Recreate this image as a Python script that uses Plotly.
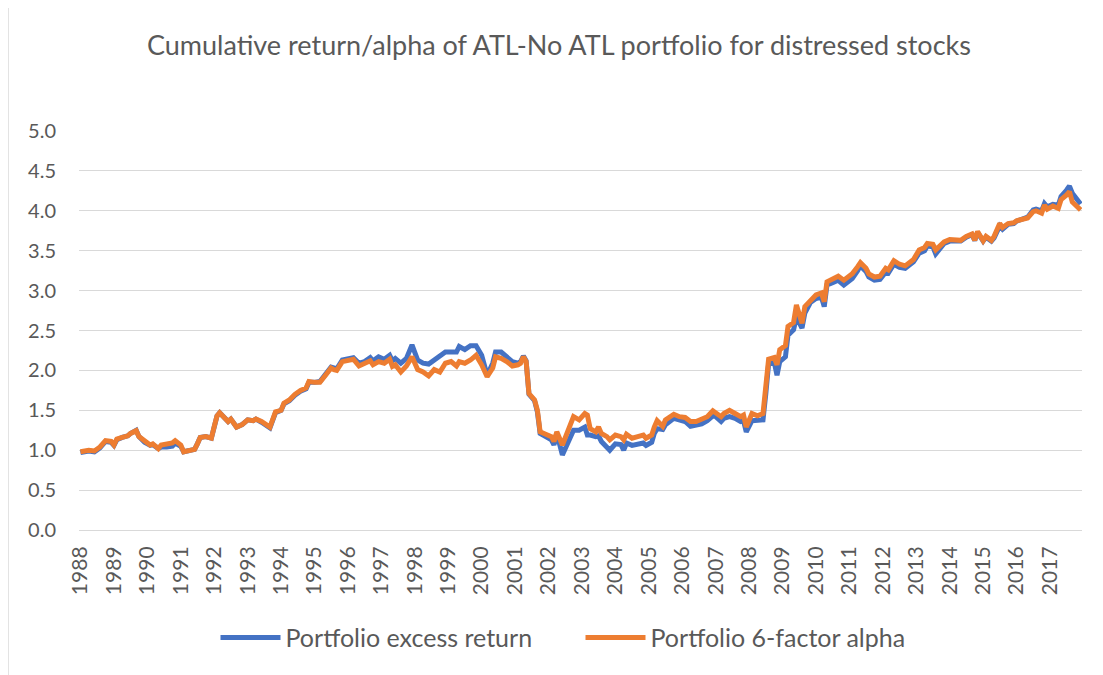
import plotly.graph_objects as go

dates = [
    "1988-01", "1988-03", "1988-04", "1988-06", "1988-08", "1988-10", "1988-12",
    "1989-01", "1989-02", "1989-04", "1989-06", "1989-07", "1989-09", "1989-10", "1989-12",
    "1990-02", "1990-03", "1990-05", "1990-06", "1990-08", "1990-10", "1990-11",
    "1991-01", "1991-02", "1991-04", "1991-06", "1991-07", "1991-08", "1991-10", "1991-12",
    "1992-01", "1992-02", "1992-03", "1992-05", "1992-06", "1992-07", "1992-09", "1992-11",
    "1993-01", "1993-03", "1993-04", "1993-06", "1993-08", "1993-09", "1993-11",
    "1994-01", "1994-02", "1994-04", "1994-06", "1994-08", "1994-10", "1994-11",
    "1995-01", "1995-03", "1995-05", "1995-07", "1995-08", "1995-09", "1995-11",
    "1996-01", "1996-03", "1996-05", "1996-07", "1996-09", "1996-10", "1996-12",
    "1997-02", "1997-04", "1997-05", "1997-06", "1997-08", "1997-10", "1997-12",
    "1998-02", "1998-04", "1998-06", "1998-08", "1998-10", "1998-12",
    "1999-02", "1999-04", "1999-05", "1999-07", "1999-09", "1999-11",
    "2000-01", "2000-03", "2000-05", "2000-06", "2000-08", "2000-10", "2000-12",
    "2001-02", "2001-03", "2001-04", "2001-05", "2001-06", "2001-08", "2001-09", "2001-10", "2001-12",
    "2002-02", "2002-03", "2002-04", "2002-06", "2002-08", "2002-10", "2002-12",
    "2003-02", "2003-03", "2003-04", "2003-06", "2003-07", "2003-08", "2003-10", "2003-11",
    "2004-01", "2004-03", "2004-04", "2004-05", "2004-07", "2004-09", "2004-11", "2004-12",
    "2005-02", "2005-03", "2005-04", "2005-06", "2005-07", "2005-10", "2005-12",
    "2006-02", "2006-04", "2006-06", "2006-08", "2006-10", "2006-12",
    "2007-01", "2007-03", "2007-04", "2007-06", "2007-08", "2007-10", "2007-11", "2007-12",
    "2008-02", "2008-04", "2008-06", "2008-07", "2008-08", "2008-10", "2008-11", "2008-12",
    "2009-02", "2009-03", "2009-05", "2009-06", "2009-08", "2009-09", "2009-11",
    "2010-01", "2010-03", "2010-04", "2010-05", "2010-07", "2010-09", "2010-11",
    "2011-01", "2011-02", "2011-04", "2011-05", "2011-07", "2011-08", "2011-10", "2011-12",
    "2012-02", "2012-03", "2012-05", "2012-07", "2012-09", "2012-11", "2012-12",
    "2013-02", "2013-04", "2013-05", "2013-07", "2013-08", "2013-10", "2013-11",
    "2014-01", "2014-03", "2014-05", "2014-07", "2014-09", "2014-10", "2014-11",
    "2015-01", "2015-02", "2015-04", "2015-05", "2015-07", "2015-08", "2015-10", "2015-12",
    "2016-01", "2016-03", "2016-05", "2016-07", "2016-08", "2016-10", "2016-11", "2016-12",
    "2017-02", "2017-04", "2017-05", "2017-07", "2017-08", "2017-09", "2017-11", "2017-12",
]

excess_return = [
    0.97, 0.99, 0.99, 0.98, 1.03, 1.11, 1.10,
    1.06, 1.13, 1.16, 1.18, 1.21, 1.25, 1.17, 1.10,
    1.06, 1.07, 1.02, 1.04, 1.04, 1.05, 1.09,
    1.05, 0.98, 1.00, 1.01, 1.08, 1.16, 1.17, 1.15,
    1.29, 1.43, 1.47, 1.41, 1.36, 1.39, 1.29, 1.32,
    1.38, 1.37, 1.39, 1.35, 1.31, 1.28, 1.47,
    1.50, 1.58, 1.62, 1.69, 1.74, 1.77, 1.85,
    1.85, 1.86, 1.95, 2.04, 2.03, 2.02, 2.13,
    2.15, 2.16, 2.09, 2.11, 2.16, 2.12, 2.17,
    2.14, 2.19, 2.12, 2.15, 2.09, 2.15, 2.32,
    2.13, 2.09, 2.08, 2.13, 2.17, 2.23,
    2.23, 2.23, 2.30, 2.26, 2.31, 2.31,
    2.19, 1.94, 2.09, 2.23, 2.23, 2.17, 2.11,
    2.09, 2.11, 2.18, 2.12, 1.70, 1.62, 1.48, 1.21, 1.17,
    1.13, 1.065, 1.21, 0.94, 1.09, 1.25, 1.25,
    1.29, 1.19, 1.19, 1.17, 1.18, 1.11, 1.05, 1.00,
    1.08, 1.07, 1.00, 1.09, 1.06, 1.07, 1.09, 1.06,
    1.10, 1.21, 1.27, 1.26, 1.32, 1.40, 1.38,
    1.36, 1.30, 1.31, 1.33, 1.37, 1.43,
    1.42, 1.36, 1.40, 1.42, 1.40, 1.36, 1.37, 1.23,
    1.37, 1.37, 1.38, 1.70, 2.08, 2.11, 1.94, 2.11,
    2.17, 2.44, 2.51, 2.67, 2.53, 2.72, 2.85,
    2.90, 2.92, 2.80, 3.07, 3.10, 3.13, 3.07,
    3.12, 3.15, 3.25, 3.31, 3.24, 3.17, 3.13, 3.14,
    3.23, 3.22, 3.33, 3.29, 3.28, 3.33, 3.36,
    3.47, 3.50, 3.56, 3.55, 3.46, 3.54, 3.59,
    3.62, 3.62, 3.62, 3.67, 3.70, 3.63, 3.73,
    3.62, 3.67, 3.62, 3.66, 3.81, 3.77, 3.83, 3.84,
    3.87, 3.89, 3.92, 4.01, 4.02, 4.00, 4.09, 4.05,
    4.08, 4.07, 4.18, 4.26, 4.31, 4.22, 4.12, 4.085,
]

six_factor_alpha = [
    0.98, 1.00, 1.00, 0.99, 1.04, 1.12, 1.11,
    1.065, 1.14, 1.16, 1.18, 1.21, 1.245, 1.17, 1.11,
    1.065, 1.08, 1.02, 1.065, 1.07, 1.09, 1.12,
    1.065, 0.98, 1.00, 1.01, 1.08, 1.16, 1.17, 1.15,
    1.295, 1.43, 1.47, 1.41, 1.36, 1.39, 1.29, 1.32,
    1.38, 1.37, 1.39, 1.36, 1.32, 1.29, 1.48,
    1.50, 1.59, 1.63, 1.70, 1.75, 1.78, 1.86,
    1.85, 1.85, 1.94, 2.03, 2.01, 2.00, 2.11,
    2.13, 2.14, 2.055, 2.08, 2.12, 2.07, 2.11,
    2.09, 2.14, 2.05, 2.07, 1.98, 2.055, 2.17,
    2.01, 1.98, 1.93, 2.01, 1.98, 2.09,
    2.11, 2.055, 2.11, 2.09, 2.13, 2.19,
    2.07, 1.92, 2.03, 2.17, 2.15, 2.11, 2.055,
    2.07, 2.09, 2.17, 2.11, 1.71, 1.63, 1.50, 1.23, 1.20,
    1.17, 1.11, 1.23, 1.065, 1.23, 1.42, 1.38,
    1.46, 1.44, 1.27, 1.23, 1.29, 1.21, 1.17, 1.13,
    1.19, 1.17, 1.13, 1.20, 1.15, 1.17, 1.19, 1.15,
    1.19, 1.29, 1.37, 1.30, 1.38, 1.45, 1.42,
    1.41, 1.36, 1.36, 1.39, 1.42, 1.495,
    1.47, 1.42, 1.46, 1.50, 1.46, 1.42, 1.44, 1.29,
    1.46, 1.43, 1.46, 1.78, 2.14, 2.16, 2.07, 2.26,
    2.31, 2.55, 2.60, 2.82, 2.59, 2.80, 2.88,
    2.945, 2.97, 2.86, 3.11, 3.15, 3.18, 3.13,
    3.18, 3.21, 3.30, 3.35, 3.28, 3.21, 3.17, 3.18,
    3.28, 3.26, 3.375, 3.33, 3.31, 3.36, 3.39,
    3.51, 3.54, 3.59, 3.58, 3.51, 3.57, 3.61,
    3.64, 3.63, 3.63, 3.68, 3.71, 3.63, 3.74,
    3.625, 3.68, 3.63, 3.68, 3.84, 3.79, 3.84, 3.85,
    3.875, 3.885, 3.91, 3.99, 4.00, 3.97, 4.07, 4.02,
    4.06, 4.03, 4.14, 4.20, 4.24, 4.11, 4.03, 4.01,
]

year_labels = [str(y) for y in range(1988, 2018)]
y_ticks = [0.0, 0.5, 1.0, 1.5, 2.0, 2.5, 3.0, 3.5, 4.0, 4.5, 5.0]

title_text = "Cumulative return/alpha of ATL-No ATL portfolio for distressed stocks"
series_names = ["Portfolio excess return", "Portfolio 6-factor alpha"]

FONT = "Lato"
TEXT = "#595959"
GRID = "#D9D9D9"

fig = go.Figure()
fig.add_trace(go.Scatter(
    x=dates, y=excess_return, name=series_names[0], mode="lines",
    line=dict(color="#4472C4", width=5),
))
fig.add_trace(go.Scatter(
    x=dates, y=six_factor_alpha, name=series_names[1], mode="lines",
    line=dict(color="#ED7D31", width=5),
))

fig.update_layout(
    width=1103, height=675,
    margin=dict(l=71, r=29, t=123, b=153),
    paper_bgcolor="white", plot_bgcolor="white",
    font=dict(family=FONT, color=TEXT),
    title=dict(text=title_text, x=0.4995, xanchor="center", y=0.945, yanchor="middle",
               font=dict(family=FONT, size=27, color=TEXT)),
    showlegend=True,
    legend=dict(orientation="h", x=0.50, xanchor="center", y=-0.27, yanchor="middle",
                font=dict(family=FONT, size=25, color=TEXT), bgcolor="rgba(0,0,0,0)",
                itemwidth=60, traceorder="normal",
                entrywidth=290, entrywidthmode="pixels"),
    xaxis=dict(
        type="date", range=["1987-12-16", "2017-12-16"],
        tickvals=[f"{y}-01-01" for y in year_labels], ticktext=year_labels,
        tickangle=-90, tickfont=dict(family=FONT, size=21, color=TEXT),
        showgrid=False, showline=True, linecolor=GRID, linewidth=1,
        ticks="", ticklabelstandoff=7,
    ),
    yaxis=dict(
        range=[0, 5], tickvals=y_ticks, tickformat=".1f",
        tickfont=dict(family=FONT, size=20, color=TEXT),
        showgrid=True, gridcolor=GRID, gridwidth=1.3, zeroline=False,
        showline=False, ticks="", ticklabelstandoff=22,
    ),
    shapes=[
        dict(type="line", xref="paper", yref="paper", x0=-0.0708, x1=-0.0708, y0=-0.40, y1=1.311,
             line=dict(color=GRID, width=1.5)),
        dict(type="line", xref="paper", yref="paper", x0=-0.0708, x1=1.05, y0=1.311, y1=1.311,
             line=dict(color=GRID, width=1.5)),
    ],
)

fig.write_html("out.html")
